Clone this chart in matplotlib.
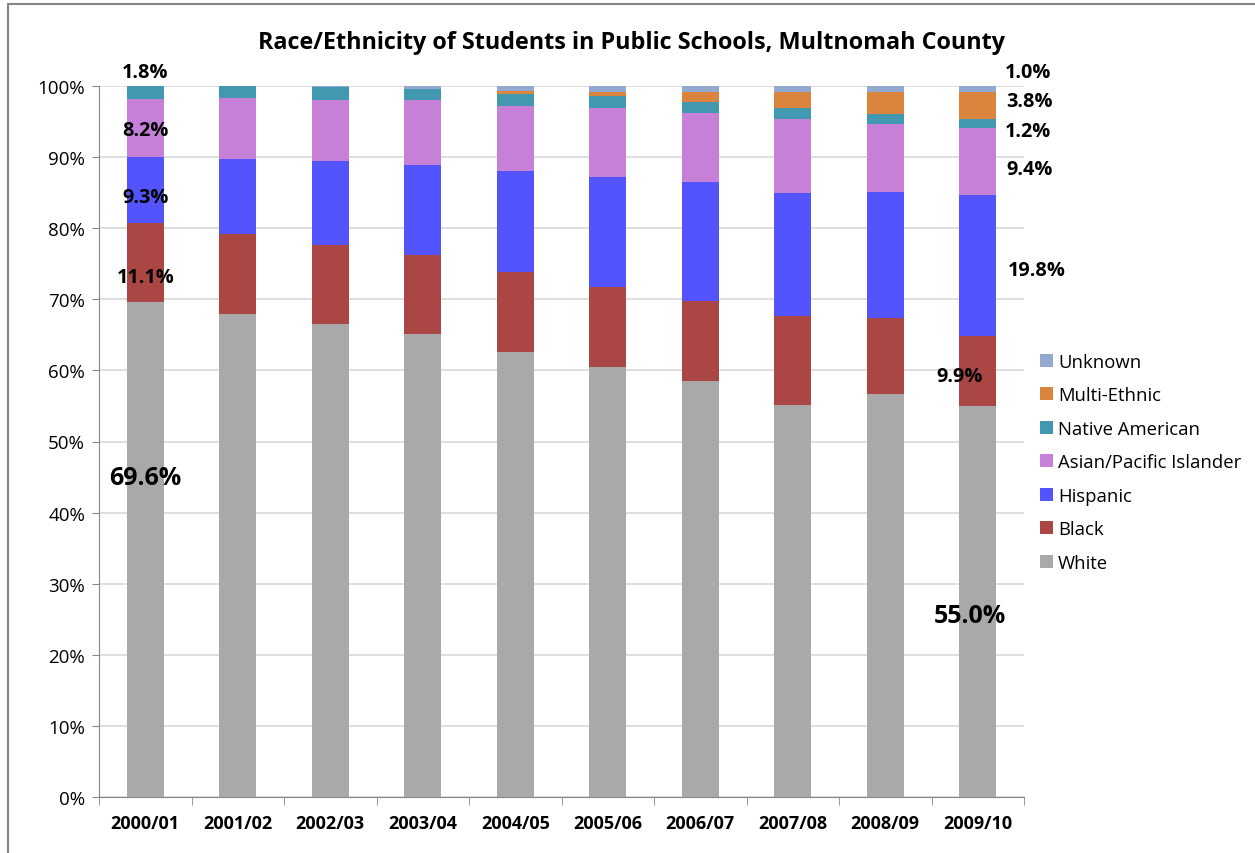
import matplotlib.pyplot as plt
import numpy as np

years = ["2000/01", "2001/02", "2002/03", "2003/04", "2004/05",
         "2005/06", "2006/07", "2007/08", "2008/09", "2009/10"]

white = [69.6, 67.9, 66.5, 65.1, 62.6, 60.5, 58.5, 55.1, 56.7, 55.0]
black = [11.1, 11.3, 11.2, 11.1, 11.2, 11.2, 11.2, 12.5, 10.6, 9.9]
hispanic = [9.3, 10.6, 11.7, 12.7, 14.2, 15.5, 16.8, 17.4, 17.8, 19.8]
asian = [8.2, 8.5, 8.7, 9.1, 9.2, 9.7, 9.7, 10.3, 9.6, 9.4]
native = [1.8, 1.7, 1.7, 1.6, 1.7, 1.7, 1.6, 1.6, 1.3, 1.2]
multi = [0.0, 0.0, 0.0, 0.0, 0.4, 0.6, 1.4, 2.2, 3.1, 3.8]
unknown = [0.0, 0.0, 0.2, 0.4, 0.7, 0.8, 0.8, 0.9, 0.9, 1.0]

series = [
    ("White", white, "#A9A9A9"),
    ("Black", black, "#AA4643"),
    ("Hispanic", hispanic, "#5454FF"),
    ("Asian/Pacific Islander", asian, "#C680D8"),
    ("Native American", native, "#4298AF"),
    ("Multi-Ethnic", multi, "#DB843D"),
    ("Unknown", unknown, "#93A9CF"),
]

plt.rcParams['font.family'] = ['Open Sans', 'DejaVu Sans']

fig = plt.figure(figsize=(12.55, 8.54), dpi=100)
ax = fig.add_axes([99 / 1255, 56 / 854, 925 / 1255, 711 / 854])

x = np.arange(len(years))
bottom = np.zeros(len(years))
handles = []
for name, vals, col in series:
    b = ax.bar(x, vals, width=0.4, bottom=bottom, color=col, label=name, zorder=3)
    handles.append(b)
    bottom += np.array(vals)

ax.set_xlim(-0.5, len(years) - 0.5)
ax.set_ylim(0, 100)
ax.set_yticks(np.arange(0, 101, 10))
ax.set_yticklabels([f"{v}%" for v in range(0, 101, 10)], fontsize=13.5)
ax.yaxis.grid(True, color="#D9D9D9", lw=1.2, zorder=0)

ax.set_xticks(x)
ax.set_xticklabels(years, fontsize=13, fontweight="bold")
ax.set_xticks(np.arange(-0.5, len(years)), minor=True)
ax.tick_params(axis="x", which="major", length=0, pad=12)
ax.tick_params(axis="x", which="minor", length=6, color="#868686", direction="out")
ax.tick_params(axis="y", length=5, color="#868686", direction="out", pad=5)

for s in ["top", "right"]:
    ax.spines[s].set_visible(False)
for s in ["left", "bottom"]:
    ax.spines[s].set_color("#868686")

fig.text(631 / 1255, 1 - 43 / 854, "Race/Ethnicity of Students in Public Schools, Multnomah County",
         ha="center", va="center", fontsize=16.8, fontweight="bold")

# data labels, first and last year
lab = dict(ha="center", va="center", fontweight="bold", fontsize=14.3, clip_on=False)
ax.text(0, 102, f"{native[0]}%", **lab)
ax.text(0, 93.8, f"{asian[0]}%", **lab)
ax.text(0, 84.4, f"{hispanic[0]}%", **lab)
ax.text(0, 73.1, f"{black[0]}%", **lab)
ax.text(0, 45, f"{white[0]}%", ha="center", va="center", fontweight="bold", fontsize=18)

ax.text(9.54, 102, f"{unknown[-1]:.1f}%", **lab)
ax.text(9.56, 97.9, f"{multi[-1]:.1f}%", **lab)
ax.text(9.54, 93.7, f"{native[-1]:.1f}%", **lab)
ax.text(9.56, 88.3, f"{asian[-1]:.1f}%", **lab)
ax.text(9.64, 74.1, f"{hispanic[-1]:.1f}%", **lab)
ax.text(8.8, 59.2, f"{black[-1]:.1f}%", **lab)
ax.text(8.91, 25.5, f"{white[-1]:.1f}%", ha="center", va="center", fontweight="bold", fontsize=18)

leg = fig.legend(handles[::-1], [s[0] for s in series][::-1],
                 loc="upper left", bbox_to_anchor=(1023 / 1255, 1 - 337 / 854),
                 frameon=False, fontsize=13.3, handlelength=0.7, handleheight=0.7,
                 handletextpad=0.3, labelspacing=0.84)

fig.add_artist(plt.Rectangle((8 / 1255, -0.1), 1.2, 1.1 - 5 / 854, transform=fig.transFigure,
                             fill=False, edgecolor="#868686", lw=1.5))

fig.savefig("out.png", dpi=100)
